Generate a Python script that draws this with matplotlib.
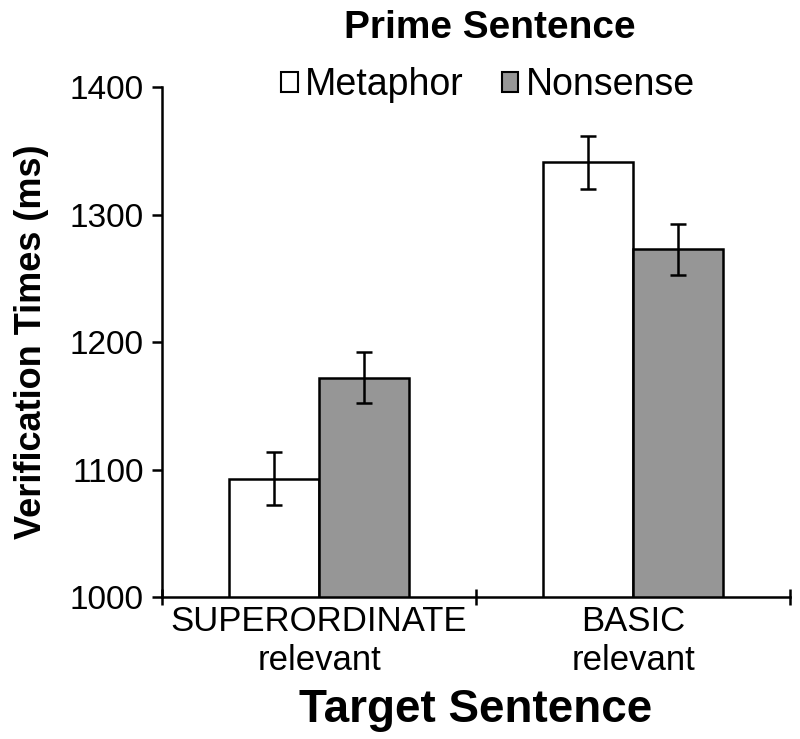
import numpy as np
import matplotlib
matplotlib.use("Agg")
import matplotlib.pyplot as plt
from matplotlib.patches import Patch

plt.rcParams['font.family'] = ['Liberation Sans', 'DejaVu Sans']

# Данные
categories = ["SUPERORDINATE\nrelevant", "BASIC\nrelevant"]
series = ["Metaphor", "Nonsense"]
metaphor = [1093, 1341]
nonsense = [1172, 1273]
metaphor_err = [21, 21]
nonsense_err = [20, 20]
yticks = [1000, 1100, 1200, 1300, 1400]

fig = plt.figure(figsize=(8, 7.39), dpi=100)
ax = fig.add_axes([0.2025, 0.192, 0.785, 0.690])

x = np.arange(len(categories))
w = 0.287
err_kw = dict(ecolor="black", elinewidth=1.8, capsize=6, capthick=1.8)
ax.bar(x - w / 2, metaphor, w, yerr=metaphor_err, color="white",
       edgecolor="black", linewidth=1.8, error_kw=err_kw, zorder=2)
ax.bar(x + w / 2, nonsense, w, yerr=nonsense_err, color="#969696",
       edgecolor="black", linewidth=1.8, error_kw=err_kw, zorder=2)

ax.set_xlim(-0.5, 1.5)
ax.set_ylim(1000, 1400)
ax.set_yticks(yticks)
ax.tick_params(axis="y", labelsize=24, length=7, width=1.8, direction="out", pad=6)

# Засечки на границах категорий, подписи по центрам
ax.set_xticks([-0.5, 0.5, 1.5])
ax.set_xticklabels([])
ax.set_xticks(x, minor=True)
ax.set_xticklabels(categories, minor=True, fontsize=25, linespacing=1.2)
ax.tick_params(axis="x", which="major", length=12, width=1.8, direction="inout")
ax.tick_params(axis="x", which="minor", length=0, pad=6)

for s in ["top", "right"]:
    ax.spines[s].set_visible(False)
ax.spines["left"].set_linewidth(1.8)
ax.spines["bottom"].set_linewidth(1.8)

ax.set_ylabel("Verification Times (ms)", fontsize=26, fontweight="bold", labelpad=15)
ax.set_xlabel("Target Sentence", fontsize=33, fontweight="bold", labelpad=8)

fig.text(0.6125, 0.962, "Prime Sentence", ha="center", va="center",
         fontsize=28, fontweight="bold")

handles = [Patch(facecolor="white", edgecolor="black", linewidth=1.5),
           Patch(facecolor="#969696", edgecolor="black", linewidth=1.5)]
fig.legend(handles, series, loc="center", bbox_to_anchor=(0.61, 0.885),
           ncol=2, frameon=False, fontsize=27, handlelength=0.45, handleheight=0.45,
           handletextpad=0.2, columnspacing=1.0, borderpad=0)

plt.savefig("out.png", dpi=100)
